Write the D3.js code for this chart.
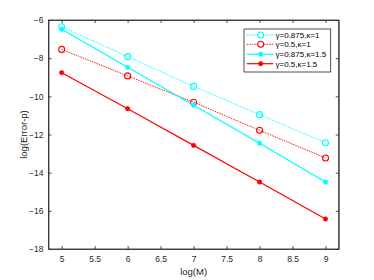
<!DOCTYPE html>
<html>
<head>
<meta charset="utf-8">
<script src="https://cdn.jsdelivr.net/npm/d3@7"></script>
<style>
  body { margin: 0; background: #fff; }
  svg { display: block; font-family: "Liberation Sans", Arial, sans-serif; }
</style>
</head>
<body>
<div id="chart-area"></div>
<script>
//======================== DATA ========================
var logM = [5, 6, 7, 8, 9];
var xTicks = [5, 5.5, 6, 6.5, 7, 7.5, 8, 8.5, 9];
var yTicks = [-6, -8, -10, -12, -14, -16, -18];

var g0875k1 = [-6.35, -7.92, -9.48, -10.96, -12.43];
var g05k1 = [-7.54, -8.93, -10.31, -11.78, -13.23];
var g0875k15 = [-6.49, -8.48, -10.47, -12.46, -14.49];
var g05k15 = [-8.76, -10.65, -12.57, -14.49, -16.43];

var seriesNames = ["\u03b3=0.875,\u03ba=1", "\u03b3=0.5,\u03ba=1", "\u03b3=0.875,\u03ba=1.5", "\u03b3=0.5,\u03ba=1.5"];

var series = [
  { name: seriesNames[0], values: g0875k1, color: "#00ffff", dash: "1.5,1", open: true },
  { name: seriesNames[1], values: g05k1, color: "#ff0000", dash: "1.5,1", open: true },
  { name: seriesNames[2], values: g0875k15, color: "#00ffff", dash: null, open: false },
  { name: seriesNames[3], values: g05k15, color: "#ff0000", dash: null, open: false }
];

//======================== LAYOUT ========================
var margins = { left: 48.5, right: 35.3, top: 20, bottom: 31 };
var W = 374, H = 280;
var width = W - margins.left - margins.right;
var height = H - margins.top - margins.bottom;
var axisColor = "#262626";

var svg = d3.select("#chart-area").append("svg")
  .attr("width", W).attr("height", H);

var g = svg.append("g")
  .attr("transform", "translate(" + margins.left + "," + margins.top + ")");

var x = d3.scaleLinear().domain([4.8, 9.2]).range([0, width]);
var y = d3.scaleLinear().domain([-18, -6]).range([height, 0]);

// box
g.append("rect")
  .attr("width", width).attr("height", height)
  .attr("fill", "#fff").attr("stroke", axisColor).attr("stroke-width", 0.8);

// bottom axis, inward ticks
g.append("g")
  .attr("transform", "translate(0," + height + ")")
  .call(d3.axisBottom(x).tickValues(xTicks).tickSizeInner(-3).tickSizeOuter(0).tickPadding(7)
    .tickFormat(d3.format("")));
// top ticks
g.append("g")
  .call(d3.axisTop(x).tickValues(xTicks).tickSizeInner(-3).tickSizeOuter(0).tickFormat(""));

g.append("g")
  .call(d3.axisLeft(y).tickValues(yTicks).tickSizeInner(-3).tickSizeOuter(0).tickPadding(5)
    .tickFormat(d3.format("")));
g.append("g")
  .attr("transform", "translate(" + width + ",0)")
  .call(d3.axisRight(y).tickValues(yTicks).tickSizeInner(-3).tickSizeOuter(0).tickFormat(""));

g.selectAll(".domain").attr("stroke", axisColor).attr("stroke-width", 0.8);
g.selectAll(".tick line").attr("stroke", axisColor).attr("stroke-width", 0.8);
g.selectAll(".tick text").attr("fill", axisColor).attr("font-size", "8.5px")
  .attr("font-family", "'Liberation Sans', Arial, sans-serif");

// axis labels
g.append("text")
  .attr("x", width / 2).attr("y", height + 26)
  .attr("text-anchor", "middle").attr("font-size", "9.5px").attr("fill", axisColor)
  .text("log(M)");

g.append("text")
  .attr("transform", "rotate(-90)")
  .attr("x", -height / 2).attr("y", -22)
  .attr("text-anchor", "middle").attr("font-size", "9.5px").attr("fill", axisColor)
  .text("log(Error-p)");

//======================== LINES ========================
var line = d3.line()
  .x(function(d, i) { return x(logM[i]); })
  .y(function(d) { return y(d); });

series.forEach(function(s) {
  g.append("path")
    .datum(s.values)
    .attr("d", line)
    .attr("fill", "none")
    .attr("stroke", s.color)
    .attr("stroke-width", s.open ? 0.9 : 1.2)
    .attr("stroke-dasharray", s.dash);

  g.selectAll(null)
    .data(s.values)
    .enter().append("circle")
    .attr("cx", function(d, i) { return x(logM[i]); })
    .attr("cy", function(d) { return y(d); })
    .attr("r", s.open ? 3 : 2.2)
    .attr("fill", s.open ? "none" : s.color)
    .attr("stroke", s.color)
    .attr("stroke-width", s.open ? 1.1 : 0.6);
});

//======================== LEGEND ========================
var lg = svg.append("g").attr("transform", "translate(244,29)");
lg.append("rect")
  .attr("width", 86.7).attr("height", 43)
  .attr("fill", "#fff").attr("stroke", axisColor).attr("stroke-width", 0.8);

var legendRowY = [6, 15.3, 25.3, 34.7];
series.forEach(function(s, i) {
  var row = lg.append("g").attr("transform", "translate(0," + legendRowY[i] + ")");
  row.append("line")
    .attr("x1", 2.7).attr("x2", 29.3)
    .attr("stroke", s.color)
    .attr("stroke-width", s.open ? 0.9 : 1.2)
    .attr("stroke-dasharray", s.dash);
  row.append("circle")
    .attr("cx", 16.7)
    .attr("r", s.open ? 3 : 2.2)
    .attr("fill", s.open ? "#fff" : s.color)
    .attr("stroke", s.color)
    .attr("stroke-width", s.open ? 1.1 : 0.6);
  row.append("text")
    .attr("x", 31.5).attr("y", 3)
    .attr("font-size", "8px").attr("fill", "#000")
    .text(s.name);
});
</script>
</body>
</html>
